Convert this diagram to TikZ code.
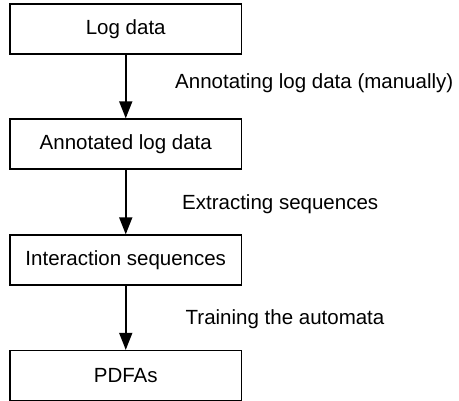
\documentclass[tikz,border=0pt]{standalone}
\usepackage{fontspec}
\setmainfont{Liberation Sans}
\usetikzlibrary{arrows.meta}
\begin{document}
\begin{tikzpicture}[x=1pt,y=-1pt,
  stagebox/.style={draw=black, line width=1.3pt, minimum width=231.5pt,
    minimum height=50pt, inner sep=0pt, anchor=center,
    font=\fontsize{20.5}{24}\selectfont},
  steplabel/.style={anchor=base west, inner sep=0pt,
    font=\fontsize{20.5}{24}\selectfont},
  flow/.style={line width=1.8pt, -{Triangle[length=17pt,width=13pt]}}]
  \useasboundingbox (0,0) rectangle (459,401);
  % pipeline stages
  \node[stagebox] (log)  at (125.75,29)    {Log data};
  \node[stagebox] (ann)  at (125.75,144)   {Annotated log data};
  \node[stagebox] (seq)  at (125.75,260)   {Interaction sequences};
  \node[stagebox] (pdfa) at (125.75,375.5) {PDFAs};
  % transitions between stages
  \draw[flow] (log)  -- (ann);
  \draw[flow] (ann)  -- (seq);
  \draw[flow] (seq)  -- (pdfa);
  % step descriptions
  \node[steplabel] (l1) at (175,89)    {Annotating log data (manually)};
  \node[steplabel] (l2) at (182,209.3) {Extracting sequences};
  \node[steplabel] (l3) at (185.5,324.3) {Training the automata};
\end{tikzpicture}
\end{document}
